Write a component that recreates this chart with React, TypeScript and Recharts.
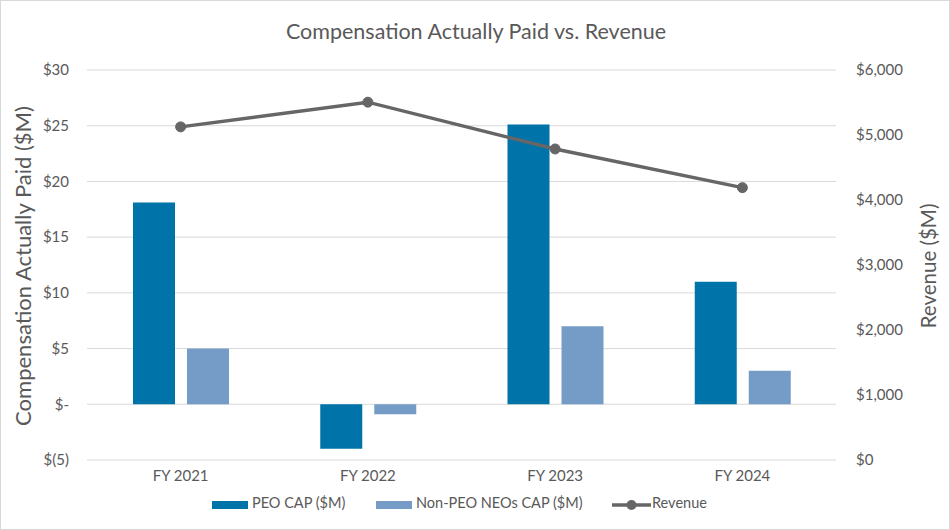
import React from "react";
import {
  ComposedChart,
  Bar,
  Line,
  XAxis,
  YAxis,
  CartesianGrid,
} from "recharts";

const categories = ["FY 2021", "FY 2022", "FY 2023", "FY 2024"];
const peoCap = [18.1, -4.0, 25.1, 11.0];
const nonPeoCap = [5.0, -0.9, 7.0, 3.0];
const revenue = [5125, 5505, 4785, 4190];
const leftTicks = [-5, 0, 5, 10, 15, 20, 25, 30];
const rightTicks = [0, 1000, 2000, 3000, 4000, 5000, 6000];

const data = categories.map((c, i) => ({
  name: c,
  peo: peoCap[i],
  nonPeo: nonPeoCap[i],
  revenue: revenue[i],
}));

const FONT = "Lato, 'Open Sans', sans-serif";
const TEXT = "#595959";
const PEO_COLOR = "#0073A9";
const NONPEO_COLOR = "#749CC7";
const LINE_COLOR = "#666666";

const fmtLeft = (v: number) => {
  if (v === 0) return "$-";
  if (v < 0) return `$(${Math.abs(v)})`;
  return `$${v}`;
};
const fmtRight = (v: number) => `$${v.toLocaleString("en-US")}`;

export default function App() {
  return (
    <div
      style={{
        position: "absolute",
        left: 0,
        top: 0,
        width: 950,
        height: 530,
        background: "#fff",
        border: "1px solid #d9d9d9",
        boxSizing: "border-box",
        fontFamily: FONT,
      }}
    >
      <div
        style={{
          position: "absolute",
          left: 0,
          top: 17,
          width: 950,
          textAlign: "center",
          fontSize: 21.5,
          color: TEXT,
        }}
      >
        Compensation Actually Paid vs. Revenue
      </div>
      <div
        style={{
          position: "absolute",
          left: 21,
          top: 265,
          transform: "translate(-50%, -50%) rotate(-90deg)",
          whiteSpace: "nowrap",
          fontSize: 22,
          color: TEXT,
        }}
      >
        Compensation Actually Paid ($M)
      </div>
      <div
        style={{
          position: "absolute",
          left: 927,
          top: 265,
          transform: "translate(-50%, -50%) rotate(-90deg)",
          whiteSpace: "nowrap",
          fontSize: 20.5,
          color: TEXT,
        }}
      >
        Revenue ($M)
      </div>
      <div style={{ position: "absolute", left: -1, top: -1 }}>
        <ComposedChart
          width={950}
          height={530}
          data={data}
          margin={{ top: 70, right: 34, bottom: 40, left: 27 }}
          barGap={12}
        >
          <CartesianGrid
            yAxisId="left"
            vertical={false}
            stroke="#d9d9d9"
            strokeWidth={1}
          />
          <XAxis
            dataKey="name"
            axisLine={false}
            tickLine={false}
            tick={{ fill: TEXT, fontSize: 15, fontFamily: FONT }}
            tickMargin={4}
            height={30}
          />
          <YAxis
            yAxisId="left"
            domain={[-5, 30]}
            ticks={leftTicks}
            tickFormatter={fmtLeft}
            axisLine={false}
            tickLine={false}
            tickMargin={12}
            width={60}
            interval={0}
            tick={{ fill: TEXT, fontSize: 15, fontFamily: FONT }}
          />
          <YAxis
            yAxisId="right"
            orientation="right"
            domain={[0, 6000]}
            ticks={rightTicks}
            tickFormatter={fmtRight}
            axisLine={false}
            tickLine={false}
            tickMargin={14}
            width={80}
            interval={0}
            tick={{ fill: TEXT, fontSize: 15, fontFamily: FONT, textAnchor: "start" }}
          />
          <Bar
            yAxisId="left"
            dataKey="peo"
            fill={PEO_COLOR}
            barSize={42}
            isAnimationActive={false}
          />
          <Bar
            yAxisId="left"
            dataKey="nonPeo"
            fill={NONPEO_COLOR}
            barSize={42}
            isAnimationActive={false}
          />
          <Line
            yAxisId="right"
            dataKey="revenue"
            stroke={LINE_COLOR}
            strokeWidth={3.5}
            dot={{ r: 5, fill: LINE_COLOR, stroke: LINE_COLOR, strokeWidth: 1 }}
            activeDot={false}
            isAnimationActive={false}
          />
        </ComposedChart>
      </div>
      <div
        style={{
          position: "absolute",
          top: 493,
          left: 0,
          width: 950,
          height: 20,
          fontSize: 14.5,
          color: TEXT,
        }}
      >
        <div style={{ position: "absolute", left: 211, top: 7, width: 36, height: 8, background: PEO_COLOR }} />
        <div style={{ position: "absolute", left: 251, top: 0, whiteSpace: "nowrap" }}>PEO CAP ($M)</div>
        <div style={{ position: "absolute", left: 375, top: 7, width: 36, height: 8, background: NONPEO_COLOR }} />
        <div style={{ position: "absolute", left: 415, top: 0, whiteSpace: "nowrap" }}>Non-PEO NEOs CAP ($M)</div>
        <svg style={{ position: "absolute", left: 610, top: 0 }} width={42} height={22}>
          <line x1={1} y1={11} x2={40} y2={11} stroke={LINE_COLOR} strokeWidth={3.5} />
          <circle cx={20.5} cy={11} r={5} fill={LINE_COLOR} />
        </svg>
        <div style={{ position: "absolute", left: 651, top: 0, whiteSpace: "nowrap" }}>Revenue</div>
      </div>
    </div>
  );
}
